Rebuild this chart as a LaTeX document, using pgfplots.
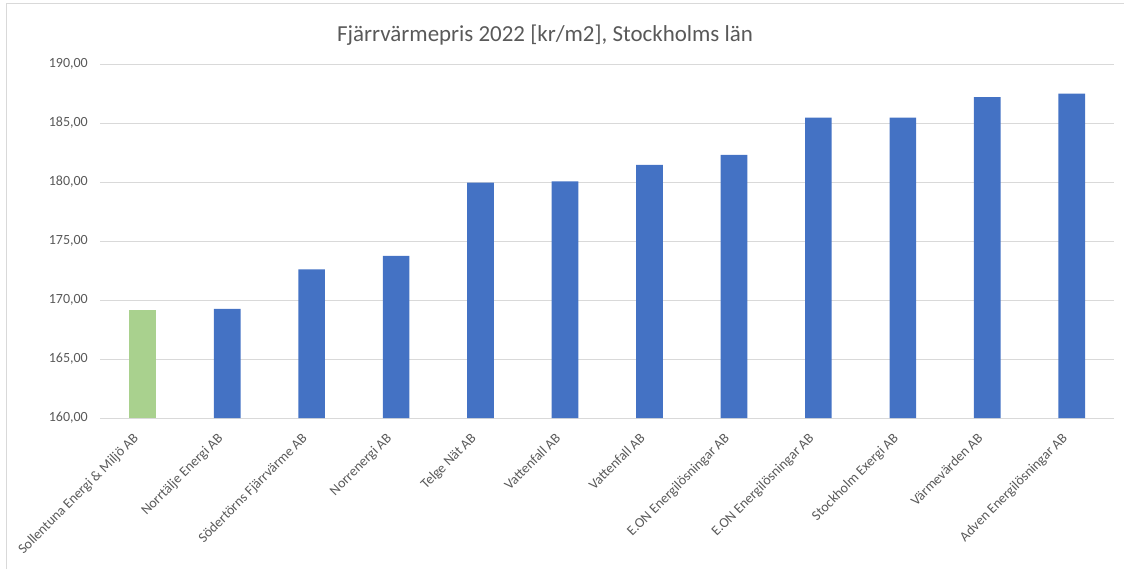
\documentclass[border=0pt]{standalone}
\usepackage{pgfplots}
\pgfplotsset{compat=1.18}
\usepackage{fontspec}
\setmainfont{Carlito}

\definecolor{txtgray}{HTML}{595959}
\definecolor{gridgray}{HTML}{D9D9D9}
\definecolor{xlblue}{HTML}{4472C4}
\definecolor{xlgreen}{HTML}{A9D18E}

\begin{document}
\begin{tikzpicture}
% page = 1124 x 569 px, 1px = 0.75pt, origin at the axis' lower left corner
\useasboundingbox (-75.375pt,-113.25pt) rectangle (767.625pt,313.5pt);
\draw[gridgray, line width=0.75pt] (-70.125pt,-113.25pt) -- (-70.125pt,311.25pt) -- (767.625pt,311.25pt);

\begin{axis}[
    at={(0,0)}, anchor=south west,
    width=760.1pt, height=265.5pt,
    scale only axis,
    ybar, bar shift=0pt, bar width=20pt,
    xmin=-0.5, xmax=11.5,
    ymin=160, ymax=190,
    ytick={160,165,...,190},
    xtick={0,...,11},
    xticklabels={Sollentuna Energi \& Miljö AB, Norrtälje Energi AB, Södertörns Fjärrvärme AB, Norrenergi AB, Telge Nät AB, Vattenfall AB, Vattenfall AB, E.ON Energilösningar AB, E.ON Energilösningar AB, Stockholm Exergi AB, Värmevärden AB, Adven Energilösningar AB},
    major tick length=0pt,
    axis line style={draw=none},
    ymajorgrids, major grid style={gridgray, line width=0.75pt},
    tick label style={text=txtgray},
    y tick label style={font=\fontsize{10.5}{12}\selectfont, xshift=-6pt},
    x tick label style={font=\fontsize{10.5}{12}\selectfont, xshift=-8pt, yshift=-9pt, rotate=45, anchor=north east, inner sep=1pt},
    /pgf/number format/.cd, fixed, fixed zerofill, precision=2, use comma, 1000 sep={}, assume math mode=true,
]
\addplot[fill=xlgreen, draw=none] coordinates {(0,169.15)};
\addplot[fill=xlblue, draw=none] coordinates {
    (1,169.25) (2,172.6) (3,173.75) (4,179.95) (5,180.05)
    (6,181.45) (7,182.3) (8,185.45) (9,185.45) (10,187.2) (11,187.5)};
\end{axis}

\node[text=txtgray, font=\fontsize{17.2}{20}\selectfont] at (333.4pt,287.25pt) {Fjärrvärmepris 2022 [kr/m2], Stockholms län};
\end{tikzpicture}
\end{document}
